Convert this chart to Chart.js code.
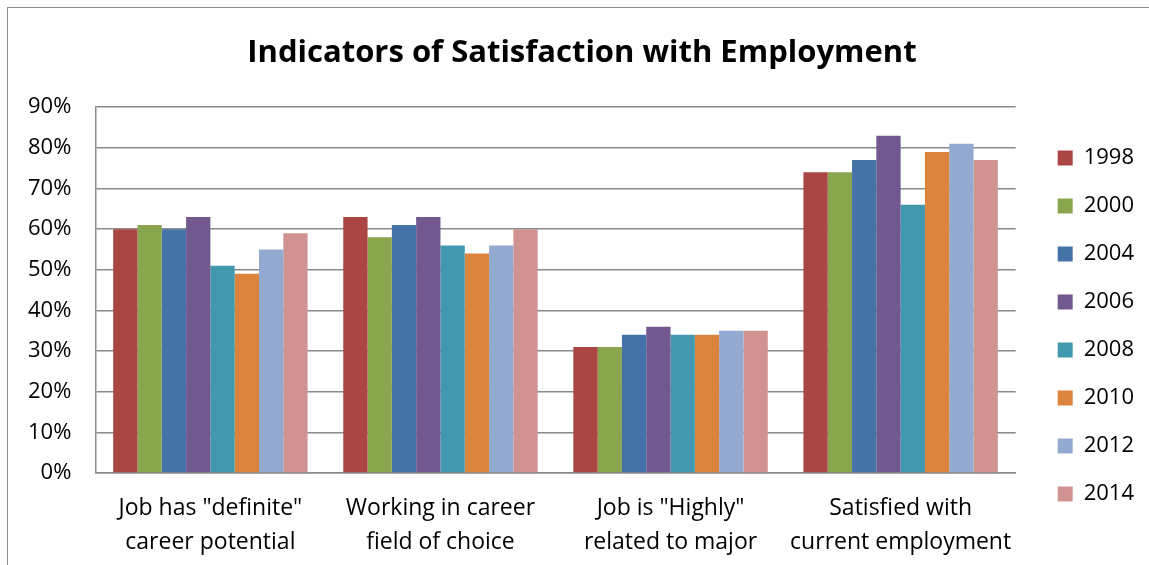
<!DOCTYPE html>
<html>
<head>
<meta charset="utf-8">
<script src="https://cdn.jsdelivr.net/npm/chart.js@4"></script>
<style>
  html, body { margin: 0; padding: 0; background: #fff; }
  #wrap { position: relative; width: 1149px; height: 565px; overflow: hidden; }
  #frame { position: absolute; left: 7px; top: 7px; width: 1200px; height: 600px; border: 1.5px solid #8c8c8c; pointer-events: none; }
  canvas { position: absolute; left: 0; top: 0; }
</style>
</head>
<body>
<div id="wrap">
  <canvas id="chart" width="1149" height="565"></canvas>
  <div id="frame"></div>
</div>
<script>
// categories
const categories = [
  ['Job has "definite"', 'career potential'],
  ['Working in career', 'field of choice'],
  ['Job is "Highly"', 'related to major'],
  ['Satisfied with', 'current employment'],
];

// series, one per survey year (percent)
const years = ['1998', '2000', '2004', '2006', '2008', '2010', '2012', '2014'];
const s1998 = [60, 63, 31, 74];
const s2000 = [61, 58, 31, 74];
const s2004 = [60, 61, 34, 77];
const s2006 = [63, 63, 36, 83];
const s2008 = [51, 56, 34, 66];
const s2010 = [49, 54, 34, 79];
const s2012 = [55, 56, 35, 81];
const s2014 = [59, 60, 35, 77];
const seriesValues = [s1998, s2000, s2004, s2006, s2008, s2010, s2012, s2014];

const colors = ['#AA4643', '#89A54E', '#4572A7', '#71588F', '#4198AF', '#DB843D', '#93A9CF', '#D19392'];

const FONT = '"Open Sans", "DejaVu Sans", sans-serif';
const gridColor = '#8a8a8a';

const datasets = years.map((y, i) => ({
  label: y,
  data: seriesValues[i],
  backgroundColor: colors[i],
  borderWidth: 0,
  barPercentage: 1.0,
  categoryPercentage: 0.845,
}));

new Chart(document.getElementById('chart'), {
  type: 'bar',
  data: { labels: categories, datasets },
  options: {
    responsive: false,
    animation: false,
    layout: { padding: { top: 35, left: 20, right: 5, bottom: -13 } },
    scales: {
      x: {
        grid: { display: false, drawTicks: false },
        border: { color: gridColor, width: 1.5 },
        ticks: {
          color: '#000',
          font: { family: FONT, size: 23, lineHeight: 1.5 },
          padding: 18,
          maxRotation: 0,
        },
      },
      y: {
        min: 0,
        max: 90,
        ticks: {
          stepSize: 10,
          color: '#000',
          font: { family: FONT, size: 22 },
          padding: 24,
          callback: (v) => v + '%',
        },
        grid: { color: gridColor, lineWidth: 1.5, drawTicks: false },
        border: { color: gridColor, width: 1.5 },
        // labels sit close to the frame, so let them reach into the left padding
        afterFit: (scale) => { scale.width -= 16; },
      },
      // empty spacer between the plot and the legend
      gap: {
        type: 'linear',
        position: 'right',
        ticks: { display: false },
        grid: { display: false, drawTicks: false },
        border: { display: false },
        afterFit: (scale) => { scale.width = 16; },
      },
    },
    plugins: {
      title: {
        display: true,
        text: 'Indicators of Satisfaction with Employment',
        color: '#000',
        font: { family: FONT, size: 31, weight: 'bold' },
        padding: { top: 0, bottom: 35 },
      },
      legend: {
        position: 'right',
        align: 'start',
        title: { display: true, text: '', font: { size: 10 }, padding: { top: 0, bottom: 74 } },
        labels: {
          color: '#000',
          font: { family: FONT, size: 22 },
          boxWidth: 15,
          boxHeight: 15,
          padding: 26,
        },
      },
      tooltip: { enabled: false },
    },
  },
});
</script>
</body>
</html>
